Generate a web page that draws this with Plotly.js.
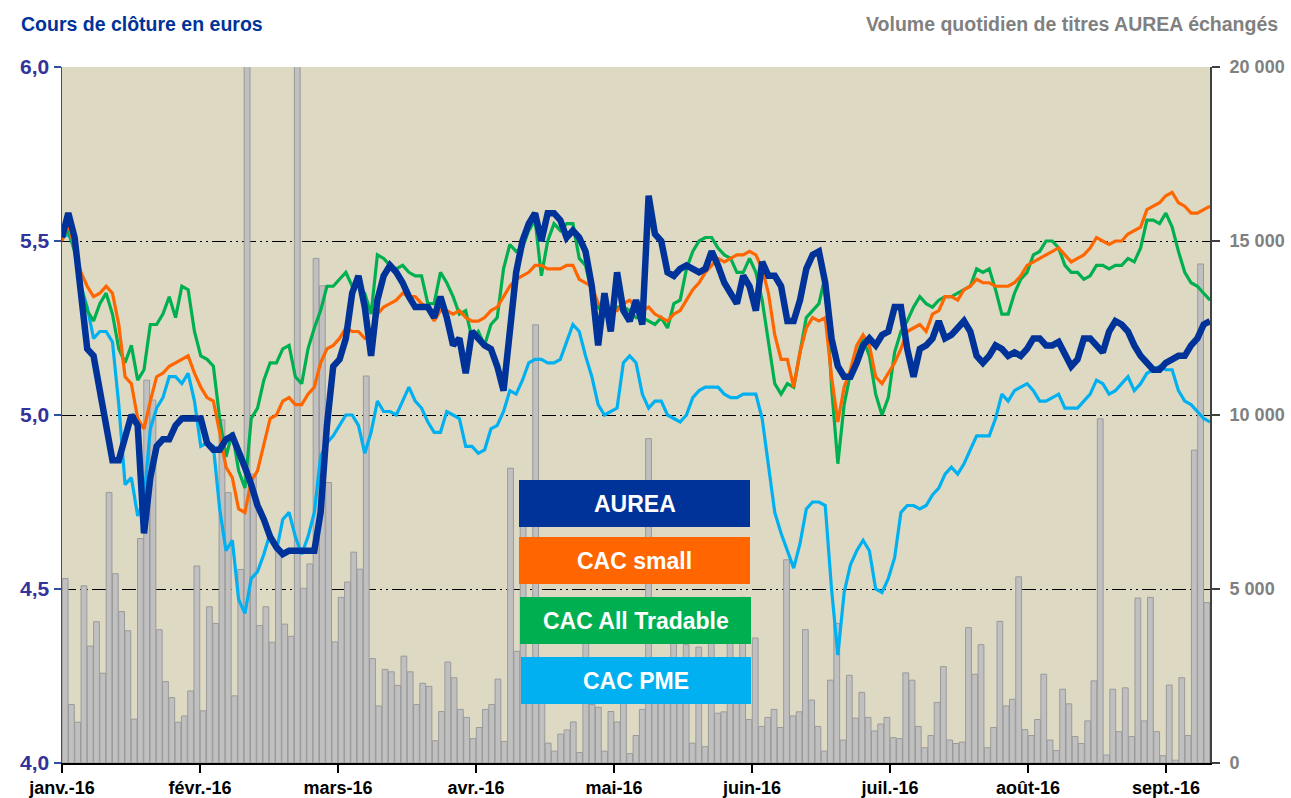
<!DOCTYPE html>
<html>
<head>
<meta charset="utf-8">
<script src="https://cdn.plot.ly/plotly-3.0.1.min.js"></script>
<style>
html,body{margin:0;padding:0;background:#ffffff;}
#chart{width:1291px;height:798px;}
</style>
</head>
<body>
<div id="chart"></div>
<script>
// ---- Data (trading days, janv. -> sept. 2016) ----
const monthLabels = ["janv.-16","févr.-16","mars-16","avr.-16","mai-16","juin-16","juil.-16","août-16","sept.-16"];
const monthTickIndex = [0,22,44,66,88,110,132,154,176];

const seriesNames = ["AUREA","CAC small","CAC All Tradable","CAC PME"];

const aurea = [5.51,5.58,5.51,5.35,5.19,5.17,5.07,4.96,4.87,4.87,4.93,5.00,4.97,4.66,4.82,4.91,4.93,4.93,4.97,4.99,
4.99,4.99,4.99,4.92,4.90,4.90,4.93,4.94,4.90,4.85,4.80,4.74,4.70,4.65,4.62,4.60,4.61,4.61,4.61,4.61,
4.61,4.72,4.97,5.14,5.16,5.22,5.35,5.40,5.31,5.17,5.33,5.40,5.43,5.41,5.38,5.34,5.31,5.31,5.31,5.28,
5.34,5.28,5.20,5.22,5.12,5.24,5.22,5.20,5.19,5.14,5.07,5.24,5.41,5.50,5.55,5.58,5.50,5.58,5.58,5.56,
5.51,5.53,5.51,5.47,5.37,5.20,5.35,5.24,5.41,5.30,5.27,5.33,5.26,5.63,5.52,5.50,5.41,5.40,5.42,5.43,
5.42,5.41,5.42,5.47,5.43,5.38,5.35,5.32,5.40,5.37,5.30,5.44,5.40,5.40,5.37,5.27,5.27,5.33,5.42,5.46,
5.47,5.38,5.22,5.14,5.11,5.11,5.15,5.20,5.22,5.20,5.23,5.24,5.31,5.31,5.19,5.11,5.19,5.20,5.22,5.27,
5.22,5.23,5.25,5.27,5.24,5.17,5.15,5.17,5.20,5.19,5.17,5.18,5.17,5.19,5.22,5.22,5.20,5.20,5.21,5.17,
5.14,5.16,5.22,5.22,5.20,5.18,5.24,5.27,5.26,5.24,5.20,5.17,5.15,5.13,5.13,5.15,5.16,5.17,5.17,5.20,
5.22,5.26,5.27];

const cacSmall = [5.50,5.55,5.48,5.41,5.37,5.34,5.35,5.37,5.35,5.26,5.11,5.09,4.99,4.96,5.04,5.11,5.12,5.14,5.15,5.16,
5.17,5.12,5.08,5.05,5.04,4.95,4.85,4.82,4.73,4.72,4.81,4.84,4.92,4.99,5.00,5.04,5.05,5.03,5.03,5.06,
5.08,5.15,5.19,5.20,5.22,5.25,5.24,5.24,5.22,5.22,5.29,5.31,5.32,5.33,5.35,5.34,5.34,5.32,5.31,5.27,
5.30,5.30,5.29,5.30,5.28,5.27,5.27,5.28,5.30,5.31,5.34,5.37,5.39,5.40,5.41,5.43,5.43,5.42,5.42,5.42,
5.43,5.43,5.39,5.38,5.37,5.32,5.31,5.30,5.30,5.32,5.33,5.31,5.30,5.31,5.29,5.28,5.27,5.29,5.30,5.33,
5.36,5.38,5.41,5.43,5.45,5.44,5.45,5.46,5.46,5.47,5.46,5.42,5.35,5.23,5.16,5.16,5.08,5.18,5.25,5.28,
5.27,5.28,5.11,4.98,5.08,5.13,5.20,5.23,5.20,5.11,5.09,5.12,5.15,5.19,5.24,5.25,5.26,5.24,5.29,5.30,
5.34,5.34,5.33,5.36,5.37,5.39,5.38,5.38,5.37,5.37,5.37,5.38,5.40,5.43,5.44,5.45,5.46,5.47,5.48,5.46,
5.44,5.45,5.46,5.48,5.51,5.50,5.49,5.50,5.50,5.52,5.53,5.54,5.59,5.60,5.61,5.63,5.64,5.61,5.60,5.58,
5.58,5.59,5.60];

const cacAllTradable = [5.51,5.53,5.47,5.37,5.30,5.27,5.32,5.35,5.29,5.19,5.15,5.20,5.10,5.13,5.26,5.26,5.29,5.34,5.28,5.37,
5.36,5.24,5.17,5.16,5.14,4.99,4.88,4.95,4.84,4.79,4.99,5.02,5.10,5.15,5.15,5.19,5.20,5.11,5.09,5.19,
5.25,5.30,5.37,5.37,5.39,5.41,5.37,5.37,5.35,5.29,5.46,5.45,5.43,5.42,5.43,5.41,5.40,5.40,5.32,5.32,
5.41,5.38,5.34,5.29,5.30,5.22,5.24,5.20,5.26,5.28,5.42,5.49,5.47,5.48,5.53,5.56,5.40,5.50,5.55,5.53,
5.55,5.55,5.45,5.43,5.35,5.31,5.29,5.28,5.31,5.31,5.30,5.28,5.28,5.27,5.26,5.28,5.25,5.32,5.33,5.42,
5.47,5.50,5.51,5.51,5.48,5.46,5.45,5.41,5.41,5.45,5.41,5.33,5.21,5.09,5.06,5.09,5.08,5.18,5.28,5.30,
5.32,5.40,5.08,4.86,5.03,5.12,5.17,5.22,5.17,5.06,5.00,5.05,5.18,5.24,5.27,5.31,5.34,5.32,5.31,5.33,
5.34,5.34,5.35,5.36,5.37,5.42,5.41,5.42,5.36,5.29,5.29,5.35,5.39,5.41,5.46,5.47,5.50,5.50,5.48,5.43,
5.41,5.41,5.39,5.40,5.43,5.43,5.42,5.43,5.43,5.45,5.44,5.48,5.56,5.56,5.55,5.58,5.54,5.47,5.41,5.38,
5.37,5.35,5.33];

const cacPme = [5.51,5.52,5.48,5.37,5.31,5.22,5.24,5.24,5.21,5.03,4.80,4.82,4.71,4.76,4.96,5.02,5.05,5.11,5.11,5.09,
5.12,5.04,4.91,4.92,4.91,4.73,4.61,4.64,4.47,4.43,4.53,4.55,4.60,4.66,4.61,4.70,4.72,4.65,4.60,4.65,
4.72,4.88,4.92,4.94,4.97,5.00,5.00,4.97,4.89,4.95,5.04,5.01,5.01,5.00,5.04,5.08,5.04,5.02,4.98,4.95,
4.95,5.01,5.00,4.99,4.91,4.91,4.89,4.90,4.96,4.97,5.01,5.07,5.06,5.10,5.15,5.16,5.16,5.15,5.15,5.16,
5.21,5.26,5.24,5.17,5.11,5.03,5.00,5.01,5.02,5.15,5.17,5.15,5.06,5.02,5.04,5.04,5.00,4.99,4.98,5.00,
5.05,5.07,5.08,5.08,5.08,5.06,5.05,5.05,5.06,5.06,5.06,4.99,4.85,4.72,4.66,4.61,4.56,4.63,4.73,4.75,
4.75,4.74,4.50,4.31,4.49,4.57,4.61,4.64,4.61,4.50,4.49,4.53,4.59,4.72,4.74,4.74,4.73,4.74,4.77,4.79,
4.83,4.85,4.83,4.86,4.90,4.94,4.94,4.94,4.99,5.06,5.04,5.07,5.08,5.09,5.07,5.04,5.04,5.05,5.06,5.02,
5.02,5.02,5.04,5.06,5.10,5.09,5.06,5.07,5.09,5.11,5.07,5.09,5.12,5.13,5.14,5.13,5.13,5.07,5.04,5.03,
5.01,4.99,4.98];

const volume = [5300,1680,1170,5090,3360,4060,2580,7770,5440,4350,3800,1260,6450,11000,10430,3830,2340,1880,1170,1350,
2070,5660,1500,4490,4010,9860,7770,1930,5560,26000,8300,3950,4490,3470,6100,3990,3640,26000,5020,5720,
14500,13710,8060,3480,4760,5200,6060,5570,11120,3000,1640,2690,2620,2230,3070,2620,1680,2290,2200,640,
1480,2900,2450,1540,1310,700,1020,1540,1680,2410,620,8470,3210,7000,3000,12590,2500,570,340,830,
950,1180,300,4000,1680,1600,340,1480,1180,1830,270,790,1540,9320,2200,1800,2600,3800,2400,3400,
570,3330,470,4570,1430,1470,3600,2800,4760,1250,3590,1050,1310,1540,1020,5840,1350,1470,3830,1810,
1050,340,2380,4010,660,2520,1290,2030,1310,920,1120,1310,730,700,2590,2380,1050,440,790,1740,
2770,660,560,600,3890,2550,3400,440,1020,4070,1640,1830,5350,960,790,1250,2550,660,360,2120,
1700,760,560,1210,2360,9890,230,2120,900,2160,760,4740,1210,4760,900,210,2240,80,2450,790,
8990,14340,4610];

const leftTickVals = [4.0,4.5,5.0,5.5,6.0];
const leftTickText = ["4,0","4,5","5,0","5,5","6,0"];
const rightTickVals = [0,5000,10000,15000,20000];
const rightTickText = ["0","5 000","10 000","15 000","20 000"];

// ---- Build chart ----
const nCat = volume.length;                 // 183 trading days
const barX = volume.map((_, i) => i + 0.5);
const lineX = aurea.map((_, j) => j * nCat / (aurea.length - 1));

const FONT = "Liberation Sans, Arial, sans-serif";
const colors = {aurea:"#003399", small:"#FF6600", all:"#00B050", pme:"#00B0F0"};

const traces = [
  {type:"bar", x:barX, y:volume, xaxis:"x", yaxis:"y", name:"Volume",
   marker:{color:"#C0C0C0", line:{color:"#9A9A9A", width:1}}, width:0.92, showlegend:false, hoverinfo:"skip"},
  {type:"scatter", mode:"lines", x:lineX, y:cacPme, xaxis:"x", yaxis:"y2", name:seriesNames[3],
   line:{color:colors.pme, width:3.2}, showlegend:false},
  {type:"scatter", mode:"lines", x:lineX, y:cacAllTradable, xaxis:"x", yaxis:"y2", name:seriesNames[2],
   line:{color:colors.all, width:3.2}, showlegend:false},
  {type:"scatter", mode:"lines", x:lineX, y:cacSmall, xaxis:"x", yaxis:"y2", name:seriesNames[1],
   line:{color:colors.small, width:3.2}, showlegend:false},
  {type:"scatter", mode:"lines", x:lineX, y:aurea, xaxis:"x", yaxis:"y2", name:seriesNames[0],
   line:{color:colors.aurea, width:6.5}, showlegend:false}
];

// plot area in pixels: x 62..1210, y 67..763
const L = 62, R = 1210, T = 67, B = 763;
const px = v => (v - L) / (R - L);
const py = v => (B - v) / (B - T);

const legendBoxes = [
  {label:seriesNames[0], color:colors.aurea, x0:519, x1:750, y0:480, y1:527},
  {label:seriesNames[1], color:colors.small, x0:519, x1:750, y0:537, y1:584},
  {label:seriesNames[2], color:colors.all,   x0:520, x1:751, y0:597, y1:644},
  {label:seriesNames[3], color:colors.pme,   x0:521, x1:751, y0:657, y1:704}
];

const shapes = legendBoxes.map(b => ({
  type:"rect", xref:"paper", yref:"paper", layer:"above",
  x0:px(b.x0), x1:px(b.x1), y0:py(b.y1), y1:py(b.y0),
  fillcolor:b.color, line:{width:0}
}));

const annotations = legendBoxes.map(b => ({
  xref:"paper", yref:"paper", x:px((b.x0+b.x1)/2), y:py((b.y0+b.y1)/2),
  text:"<b>"+b.label+"</b>", showarrow:false, xanchor:"center", yanchor:"middle",
  font:{family:FONT, size:23, color:"#FFFFFF"}
}));

annotations.push({
  xref:"paper", yref:"paper", x:px(19), y:py(24), xanchor:"left", yanchor:"middle",
  text:"<b>Cours de clôture en euros</b>", showarrow:false,
  font:{family:FONT, size:19.5, color:"#003399"}
});
annotations.push({
  xref:"paper", yref:"paper", x:px(1280), y:py(24), xanchor:"right", yanchor:"middle",
  text:"<b>Volume quotidien de titres AUREA échangés</b>", showarrow:false,
  font:{family:FONT, size:19.5, color:"#808080"}
});

const layout = {
  width:1291, height:798, autosize:false,
  margin:{l:62, r:81, t:67, b:35, pad:0},
  paper_bgcolor:"#FFFFFF", plot_bgcolor:"#DDD9C3",
  bargap:0.08,
  showlegend:false,
  xaxis:{
    range:[0, nCat], tickmode:"array", tickvals:monthTickIndex, ticktext:monthLabels,
    ticks:"outside", ticklen:8, tickwidth:1.5, tickcolor:"#000000",
    showline:true, linecolor:"#000000", linewidth:1.5,
    showgrid:false, zeroline:false, fixedrange:true,
    tickfont:{family:FONT, size:18, color:"#000000", weight:"bold"}
  },
  yaxis:{
    range:[0,20000], side:"right", tickmode:"array", tickvals:rightTickVals, ticktext:rightTickText,
    ticks:"outside", ticklen:8, tickwidth:1.5, tickcolor:"#404040",
    showline:true, linecolor:"#404040", linewidth:2,
    showgrid:true, gridcolor:"#000000", gridwidth:1, griddash:"14px,4px,2px,4px,2px,4px",
    zeroline:false, fixedrange:true, ticklabelstandoff:6,
    tickfont:{family:FONT, size:18, color:"#808080", weight:"bold"}
  },
  yaxis2:{
    range:[4,6], overlaying:"y", side:"left", tickmode:"array", tickvals:leftTickVals, ticktext:leftTickText,
    ticks:"outside", ticklen:7, tickwidth:1.5, tickcolor:"#2F4FA0",
    showline:true, linecolor:"#2F4FA0", linewidth:1.5,
    showgrid:false, zeroline:false, fixedrange:true,
    tickfont:{family:FONT, size:21, color:"#333399", weight:"bold"}
  },
  shapes:shapes,
  annotations:annotations
};

Plotly.newPlot("chart", traces, layout, {displayModeBar:false, staticPlot:true});
</script>
</body>
</html>
